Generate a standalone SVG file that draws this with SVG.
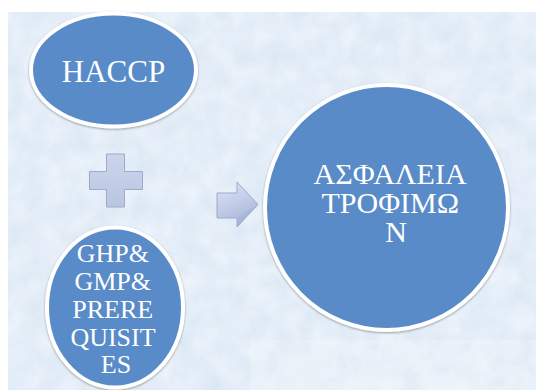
<svg xmlns="http://www.w3.org/2000/svg" width="536" height="390" viewBox="0 0 536 390">
  <defs>
    <!-- mottled light-blue paper texture for the slide background -->
    <filter id="paper" x="0" y="0" width="100%" height="100%">
      <feTurbulence type="fractalNoise" baseFrequency="0.045" numOctaves="4" seed="7" result="n"/>
      <feColorMatrix in="n" type="matrix" values="0 0 0 0 0.86  0 0 0 0 0.91  0 0 0 0 0.97  0 0 0 -1.1 1.05" result="tint"/>
      <feComposite in="tint" in2="SourceGraphic" operator="atop"/>
    </filter>
    <filter id="soft" x="-10%" y="-10%" width="120%" height="120%">
      <feDropShadow dx="0" dy="1" stdDeviation="1.2" flood-color="#555" flood-opacity="0.55"/>
    </filter>
    <linearGradient id="plusFill" x1="0" y1="0" x2="0" y2="1">
      <stop offset="0" stop-color="#cbd5ec"/>
      <stop offset="1" stop-color="#b9c6e2"/>
    </linearGradient>
    <linearGradient id="arrowFill" x1="0" y1="0" x2="0.4" y2="1">
      <stop offset="0" stop-color="#dde4f4"/>
      <stop offset="0.6" stop-color="#bfcbe6"/>
      <stop offset="1" stop-color="#a9b7d9"/>
    </linearGradient>
    <style>
      .node { fill: #598bc8; stroke: #ffffff; stroke-width: 4; filter: url(#soft); }
      .label { font-family: "Liberation Serif", "Times New Roman", serif; fill: #ffffff; text-anchor: middle; }
      .sign { stroke: #9eabcb; stroke-width: 1; }
    </style>
  </defs>

  <!-- page -->
  <rect x="0" y="0" width="536" height="390" fill="#ffffff"/>
  <!-- textured background -->
  <rect x="8" y="12" width="528" height="378" fill="#d9e6f4"/>
  <rect x="8" y="12" width="528" height="378" fill="#d9e6f4" filter="url(#paper)"/>
  <rect x="250" y="340" width="286" height="50" fill="#ffffff" opacity="0.18"/>

  <g id="connectors">
    <!-- plus sign -->
    <path class="sign" fill="url(#plusFill)" d="M106.5,154 H124.5 V171.5 H142.5 V189.5 H124.5 V207 H106.5 V189.5 H89.5 V171.5 H106.5 Z"/>
    <!-- block arrow -->
    <path class="sign" fill="url(#arrowFill)" d="M217,193 H237 V182 L258,204.5 L237,227 V218 H217 Z"/>
    <path d="M237,218 V227 L258,204.5 L245,212 Z" fill="#9fb0d6" opacity="0.45"/>
  </g>

  <g id="haccp">
    <ellipse class="node" cx="113.5" cy="70" rx="82.5" ry="56.5"/>
    <text class="label" x="113.5" y="82" font-size="31">HACCP</text>
  </g>

  <g id="prerequisites">
    <ellipse class="node" cx="115" cy="307.5" rx="68" ry="80"/>
    <text class="label" font-size="26">
      <tspan x="116" y="262">GHP&amp;</tspan>
      <tspan x="116" y="290">GMP&amp;</tspan>
      <tspan x="116" y="318">PRERE</tspan>
      <tspan x="116" y="346">QUISIT</tspan>
      <tspan x="116" y="373">ES</tspan>
    </text>
  </g>

  <g id="food-safety">
    <ellipse class="node" cx="386.5" cy="207.5" rx="121.5" ry="122.5"/>
    <text class="label" font-size="30">
      <tspan x="393" y="184">ΑΣΦΑΛΕΙΑ</tspan>
      <tspan x="394" y="213">ΤΡΟΦΙΜΩ</tspan>
      <tspan x="396" y="242">Ν</tspan>
    </text>
  </g>
</svg>
